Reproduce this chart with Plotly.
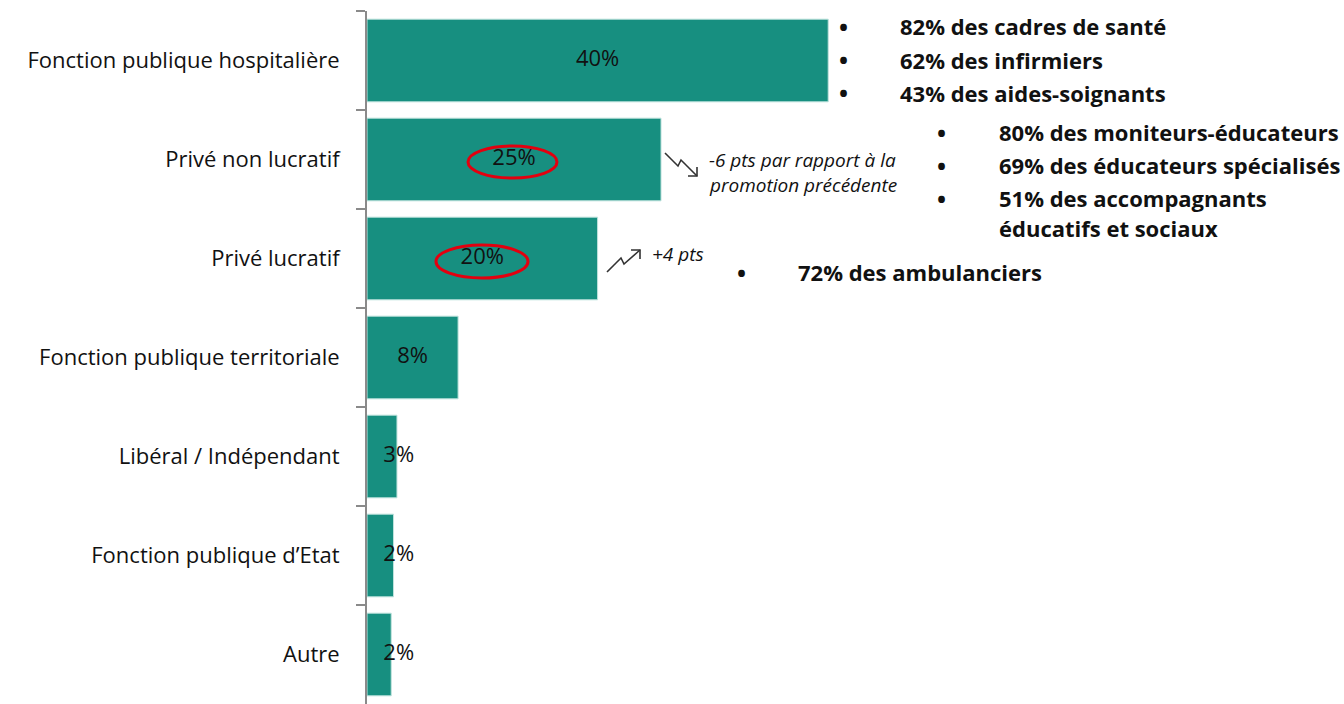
import plotly.graph_objects as go

categories = ["Fonction publique hospitalière", "Privé non lucratif", "Privé lucratif",
              "Fonction publique territoriale", "Libéral / Indépendant",
              "Fonction publique d’Etat", "Autre"]
values = [40.0, 25.5, 20.0, 7.9, 2.6, 2.3, 2.1]
labels = ["40%", "25%", "20%", "8%", "3%", "2%", "2%"]

group_hosp = ["82% des cadres de santé", "62% des infirmiers", "43% des aides-soignants"]
group_pnl = ["80% des moniteurs-éducateurs", "69% des éducateurs spécialisés",
             "51% des accompagnants", "éducatifs et sociaux"]
group_pl = ["72% des ambulanciers"]
note_pnl = ["-6 pts par rapport à la", "promotion précédente"]
note_pl = "+4 pts"

W, H = 1344, 704
FONT = "Open Sans"
TEAL = "#178F80"
TXT = "#111111"


def px(x):
    return x / W


def py(y):
    return 1 - y / H


label_x = [max(v / 2, 2.75) for v in values]

fig = go.Figure()
fig.add_trace(go.Bar(
    x=values, y=categories, orientation="h",
    marker=dict(color=TEAL, line=dict(color="#BFE3DD", width=1)),
    hoverinfo="skip", showlegend=False,
))
fig.add_trace(go.Scatter(
    x=label_x, y=categories, mode="text", text=labels,
    textfont=dict(family=FONT, size=22, color=TXT),
    textposition="middle center", hoverinfo="skip", showlegend=False,
))

x_max = (W - 367) / 11.53

fig.update_layout(
    width=W, height=H,
    margin=dict(l=0, r=0, t=0, b=0),
    paper_bgcolor="white", plot_bgcolor="white",
    bargap=0.165,
    font=dict(family=FONT, size=20, color=TXT),
    xaxis=dict(domain=[px(367), 1], range=[0, x_max], visible=False, fixedrange=True),
    yaxis=dict(domain=[0, py(11)], autorange="reversed", type="category",
               showline=True, linecolor="#8a8a8a", linewidth=2,
               ticks="outside", tickson="boundaries", ticklen=9, tickwidth=2,
               tickcolor="#8a8a8a", ticklabelstandoff=21,
               tickfont=dict(family=FONT, size=22, color=TXT),
               showgrid=False, zeroline=False, fixedrange=True),
)

annotations = []


def text_at(x, y, text, size, bold=False, italic=False):
    t = text
    if bold:
        t = "<b>" + t + "</b>"
    if italic:
        t = "<i>" + t + "</i>"
    annotations.append(dict(x=px(x), y=py(y), xref="paper", yref="paper", text=t,
                            showarrow=False, xanchor="left", yanchor="middle", align="left",
                            font=dict(family=FONT, size=size, color=TXT)))


def bullet(x, y):
    annotations.append(dict(x=px(x), y=py(y), xref="paper", yref="paper", text="<b>•</b>",
                            showarrow=False, xanchor="center", yanchor="middle",
                            font=dict(family=FONT, size=24, color=TXT)))


for item, y in zip(group_hosp, [26, 60, 93]):
    bullet(843, y)
    text_at(898, y, item, 22, bold=True)
for i, (item, y) in enumerate(zip(group_pnl, [132, 165, 198, 228])):
    if i < 3:
        bullet(942, y)
    text_at(997, y, item, 22, bold=True)
for item, y in zip(group_pl, [272]):
    bullet(741, y)
    text_at(796, y, item, 22, bold=True)

for line, y in zip(note_pnl, [160, 185]):
    text_at(707, y, line, 19, italic=True)
text_at(650, 254, note_pl, 19, italic=True)

fig.update_layout(annotations=annotations)


def path(points):
    return "M " + " L ".join(f"{px(x)},{py(y)}" for x, y in points)


shapes = []
arrow_line = dict(color="#333333", width=1.6)
shapes.append(dict(type="path", xref="paper", yref="paper",
                   path=path([(665, 153), (678, 166), (681, 160), (697, 176)]), line=arrow_line))
shapes.append(dict(type="path", xref="paper", yref="paper",
                   path=path([(688, 176), (697, 176), (697, 167)]), line=arrow_line))
shapes.append(dict(type="path", xref="paper", yref="paper",
                   path=path([(607, 272), (621, 258), (624, 264), (640, 250)]), line=arrow_line))
shapes.append(dict(type="path", xref="paper", yref="paper",
                   path=path([(631, 250), (640, 250), (640, 259)]), line=arrow_line))
shapes.append(dict(type="circle", xref="paper", yref="paper",
                   x0=px(468), x1=px(557), y0=py(146), y1=py(178),
                   line=dict(color="#E3000F", width=3)))
shapes.append(dict(type="circle", xref="paper", yref="paper",
                   x0=px(436), x1=px(528), y0=py(245), y1=py(278),
                   line=dict(color="#E3000F", width=3)))
fig.update_layout(shapes=shapes)

fig.write_html("out.html", config={"displayModeBar": False},
               post_script="document.body.style.margin='0px';document.body.style.overflow='hidden';")
